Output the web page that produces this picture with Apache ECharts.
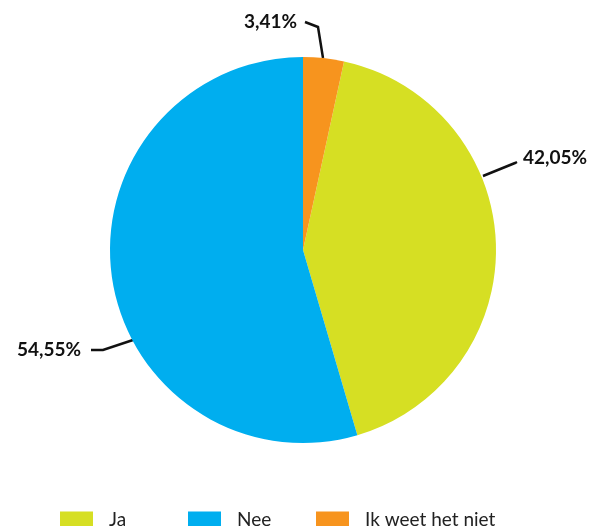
<!DOCTYPE html>
<html><head><meta charset="utf-8">
<script src="https://cdn.jsdelivr.net/npm/echarts@6/dist/echarts.min.js"></script>
<style>html,body{margin:0;padding:0;background:#fff}#c{width:594px;height:526px}</style>
</head><body><div id="c"></div>
<script>
const categories = ['Ja', 'Nee', 'Ik weet het niet'];
const values = [42.05, 54.55, 3.41];
const labels = ['42,05%', '54,55%', '3,41%'];
const colors = ['#D6DF23', '#00AEEF', '#F7941E'];

// label placement (style/layout only)
const labelPos = [
  { x: 523, y: 158, align: 'left', line: [[483, 176], [515, 163], [517, 162]] },
  { x: 81, y: 350, align: 'right', line: [[133, 340], [103, 350], [91, 350]] },
  { x: 297, y: 22, align: 'right', line: [[323, 58], [318, 27], [305, 22]] }
];
const legendLeft = [55, 183, 311];

const chart = echarts.init(document.getElementById('c'));
chart.setOption({
  animation: false,
  color: colors,
  legend: categories.map((c, i) => ({
    data: [c],
    left: legendLeft[i], top: 505,
    itemWidth: 33, itemHeight: 16,
    icon: 'rect',
    textStyle: { fontFamily: 'Lato', fontSize: 19, color: '#222', padding: [0, 0, 0, 11] }
  })),
  series: [{
    type: 'pie',
    center: [303, 250],
    radius: [0, 193],
    startAngle: 90 - 3.41 / 100 * 360,
    clockwise: true,
    data: categories.map((c, i) => ({ name: c, value: values[i], label: { formatter: labels[i] } })),
    label: {
      show: true, position: 'outside', overflow: 'none', edgeDistance: 0,
      fontFamily: 'Lato', fontWeight: 'bold', fontSize: 19, color: '#111'
    },
    labelLine: { show: true, lineStyle: { color: '#111', width: 2.5 } },
    labelLayout: function (p) {
      const L = labelPos[p.dataIndex];
      return {
        x: L.x, y: L.y, align: L.align, verticalAlign: 'middle',
        labelLinePoints: L.line
      };
    },
    emphasis: { disabled: true }
  }]
});
</script></body></html>
